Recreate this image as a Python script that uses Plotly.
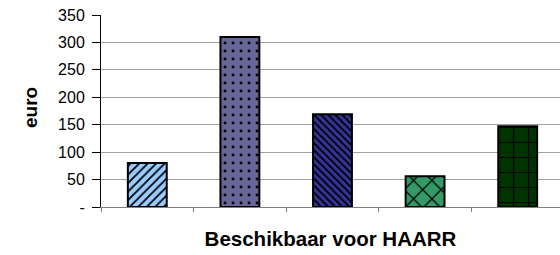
import plotly.graph_objects as go

categories = ["1", "2", "3", "4", "5"]
values = [80, 310, 169, 56, 147]
colors = ["#99ccff", "#666699", "#333399", "#339966", "#003300"]
patterns = ["/", ".", "\\", "x", "+"]
pattern_sizes = [6, 8, 5, 13, 15]
solidities = [0.3, 0.1, 0.35, 0.18, 0.15]
y_tickvals = [0, 50, 100, 150, 200, 250, 300, 350]
y_ticktext = ["-", "50", "100", "150", "200", "250", "300", "350"]
y_title = "euro"
x_title = "Beschikbaar voor HAARR"

fig = go.Figure()
for cat, val, col, pat, psize, sol in zip(categories, values, colors, patterns,
                                          pattern_sizes, solidities):
    fig.add_trace(go.Bar(
        x=[cat],
        y=[val],
        width=0.42,
        marker=dict(
            color=col,
            line=dict(color="black", width=2),
            pattern=dict(shape=pat, fgcolor="black", bgcolor=col,
                         fgopacity=1, size=psize, solidity=sol,
                         fillmode="overlay"),
        ),
    ))

fig.update_layout(
    width=560, height=255,
    margin=dict(l=101, r=0, t=15, b=48, autoexpand=False),
    paper_bgcolor="white", plot_bgcolor="white",
    showlegend=False,
    barmode="overlay",
    font=dict(family="Liberation Sans, Arial, sans-serif", color="black"),
    annotations=[dict(
        text="<b>" + y_title + "</b>", textangle=-90,
        xref="paper", yref="paper", x=-0.155, y=0.52,
        xanchor="center", yanchor="middle", showarrow=False,
        font=dict(size=19),
    )],
)
fig.update_xaxes(
    range=[-0.5, 4.457],
    automargin=False,
    showticklabels=False,
    showline=True, linecolor="#808080", linewidth=1,
    ticks="outside", tickson="boundaries", ticklen=4, tickcolor="#808080",
    showgrid=False,
    title=dict(text="<b>" + x_title + "</b>", font=dict(size=20.5), standoff=24),
)
fig.update_yaxes(
    range=[0, 350],
    automargin=False,
    tickvals=y_tickvals, ticktext=y_ticktext,
    tickfont=dict(size=16),
    showline=True, linecolor="black", linewidth=1,
    ticks="outside", ticklen=8, tickcolor="black",
    ticklabelstandoff=4,
    showgrid=True, gridcolor="#a0a0a0", gridwidth=1,
    zeroline=False,
)

fig.write_html("out.html",
               config={"displayModeBar": False},
               post_script="document.body.style.margin='0';document.body.style.padding='0';")
